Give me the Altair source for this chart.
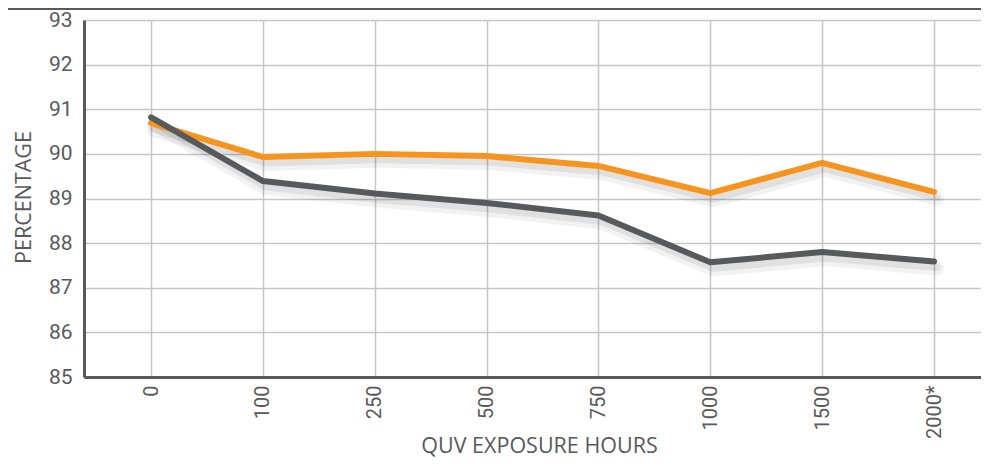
import json
import altair as alt
import pandas as pd

hours = ["0", "100", "250", "500", "750", "1000", "1500", "2000*"]
orange_vals = [90.69, 89.93, 90.00, 89.95, 89.73, 89.12, 89.80, 89.15]
gray_vals = [90.82, 89.39, 89.11, 88.90, 88.62, 87.57, 87.80, 87.59]
y_ticks = [85, 86, 87, 88, 89, 90, 91, 92, 93]

rows = []
for i, h in enumerate(hours):
    rows.append({"idx": i, "hours": h, "value": orange_vals[i], "series": "A"})
for i, h in enumerate(hours):
    rows.append({"idx": i, "hours": h, "value": gray_vals[i], "series": "B"})
df = pd.DataFrame(rows)

TOP = 12
W, H = 897, 357
label_expr = json.dumps(hours) + "[datum.value]"
TXT = "#58595b"

x_enc = alt.X(
    "idx:Q",
    scale=alt.Scale(domain=[-0.6, 7.42], nice=False, zero=False),
    axis=alt.Axis(
        values=list(range(len(hours))),
        labelExpr=label_expr,
        labelAngle=-90,
        labelFontSize=20,
        labelPadding=8,
        title="QUV EXPOSURE HOURS",
        titleFontSize=21.5,
        titleFontWeight="normal",
        titleX=455,
        titleY=75,
        titleBaseline="alphabetic",
        titleAnchor="middle",
    ),
)
y_enc = alt.Y(
    "value:Q",
    scale=alt.Scale(domain=[85, 93], nice=False, zero=False),
    axis=alt.Axis(
        values=y_ticks,
        labelFontSize=21,
        labelPadding=12,
        title="PERCENTAGE",
        titleFontSize=21.5,
        titleFontWeight="normal",
        titleX=-54,
        titleY=177,
        titleAngle=-90,
        titleBaseline="alphabetic",
        titleAnchor="middle",
    ),
)

base = alt.Chart(df)

shadow1 = base.mark_line(color="black", opacity=0.05, strokeWidth=14, xOffset=3, yOffset=7,
                         strokeCap="round", strokeJoin="round").encode(
    x=x_enc, y=y_enc, detail="series:N")
shadow2 = base.mark_line(color="black", opacity=0.07, strokeWidth=7, xOffset=3, yOffset=6,
                         strokeCap="round", strokeJoin="round").encode(
    x=x_enc, y=y_enc, detail="series:N")

lineA = base.transform_filter("datum.series == 'A'").mark_line(
    strokeWidth=6, strokeCap="round", strokeJoin="round", color="#f7941d").encode(x=x_enc, y=y_enc)
lineB = base.transform_filter("datum.series == 'B'").mark_line(
    strokeWidth=6, strokeCap="round", strokeJoin="round", color="#58595b").encode(x=x_enc, y=y_enc)

top_rule = alt.Chart(alt.Data(values=[{"a": 1}])).mark_rule(color="#58595b", strokeWidth=2).encode(
    x=alt.value(-76), x2=alt.value(W), y=alt.value(-TOP + 1))

chart = alt.layer(shadow1, shadow2, lineA, lineB, top_rule).properties(
    width=W,
    height=H,
    background="white",
    autosize=alt.AutoSizeParams(type="none"),
    padding={"left": 76, "top": TOP, "right": 0, "bottom": 81},
).configure_view(stroke=None).configure_axis(
    domainColor=TXT,
    domainWidth=3,
    ticks=False,
    gridColor="#c6c6ca",
    gridWidth=1.5,
    labelColor=TXT,
    titleColor=TXT,
    labelFont="Roboto",
    titleFont="Open Sans",
)

chart.save("out.html", embed_options={"renderer": "svg", "actions": False})
